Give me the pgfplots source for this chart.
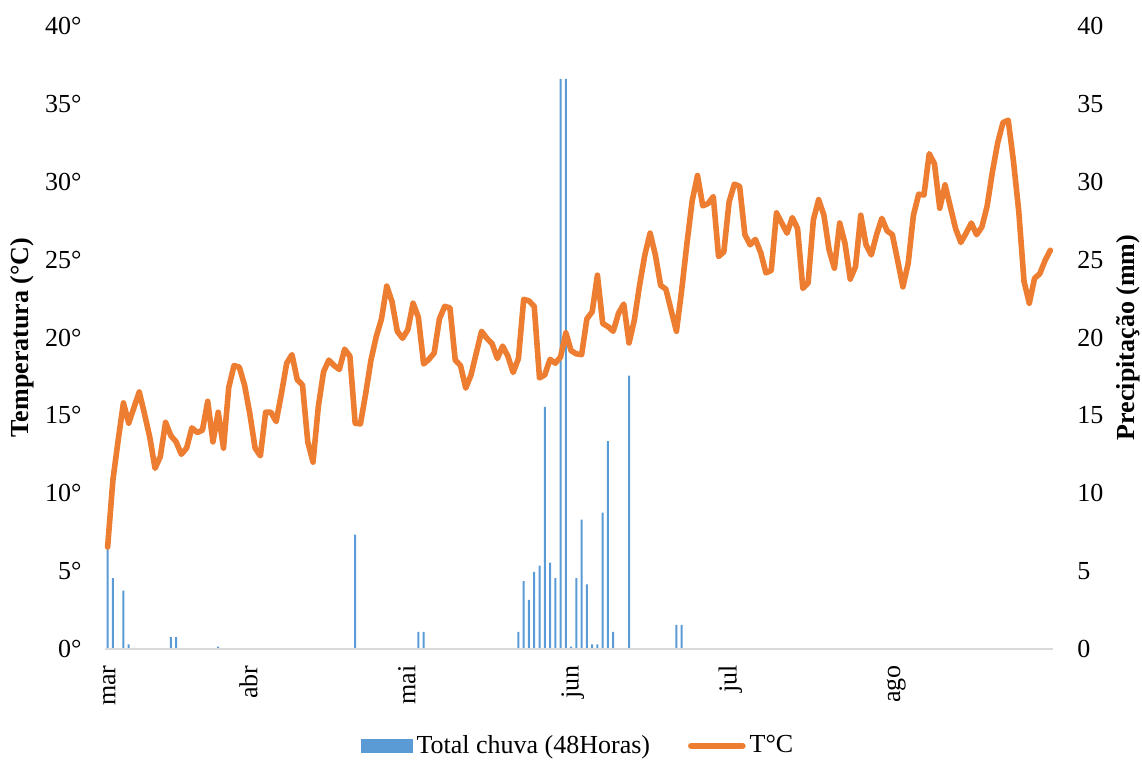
\documentclass[border=0pt]{standalone}
\usepackage{fontspec}
\setmainfont{Liberation Serif}
\usepackage{pgfplots}
\pgfplotsset{compat=1.18}
\definecolor{barblue}{HTML}{5B9BD5}
\definecolor{lineorange}{HTML}{ED7D31}
\definecolor{basegray}{HTML}{D9D9D9}

\pgfplotstableread{
d t
0 6.55
1 10.85
2 13.4
3 15.8
4 14.5
5 15.5
6 16.5
7 15.1
8 13.6
9 11.6
10 12.35
11 14.55
12 13.7
13 13.3
14 12.5
15 12.9
16 14.2
17 13.9
18 14.05
19 15.9
20 13.3
21 15.2
22 12.9
23 16.8
24 18.2
25 18.1
26 16.95
27 15.1
28 12.9
29 12.4
30 15.2
31 15.2
32 14.6
33 16.4
34 18.35
35 18.9
36 17.3
37 16.95
38 13.3
39 12.0
40 15.55
41 17.8
42 18.55
43 18.2
44 17.95
45 19.25
46 18.8
47 14.5
48 14.45
49 16.4
50 18.55
51 20.05
52 21.2
53 23.3
54 22.3
55 20.4
56 19.95
57 20.5
58 22.2
59 21.3
60 18.3
61 18.6
62 19.0
63 21.2
64 22.0
65 21.9
66 18.55
67 18.2
68 16.75
69 17.6
70 19.0
71 20.4
72 19.95
73 19.6
74 18.65
75 19.45
76 18.8
77 17.75
78 18.65
79 22.45
80 22.35
81 22.0
82 17.4
83 17.6
84 18.6
85 18.35
86 18.75
87 20.3
88 19.15
89 18.95
90 18.9
91 21.2
92 21.65
93 24.0
94 20.9
95 20.7
96 20.4
97 21.55
98 22.15
99 19.65
100 21.1
101 23.35
102 25.3
103 26.7
104 25.3
105 23.35
106 23.1
107 21.75
108 20.4
109 23.05
110 26.05
111 28.8
112 30.4
113 28.45
114 28.6
115 29.05
116 25.2
117 25.5
118 28.7
119 29.85
120 29.7
121 26.6
122 25.95
123 26.3
124 25.45
125 24.15
126 24.3
127 28.0
128 27.35
129 26.7
130 27.7
131 27.0
132 23.15
133 23.5
134 27.55
135 28.85
136 27.85
137 25.6
138 24.45
139 27.35
140 26.05
141 23.75
142 24.55
143 27.85
144 25.95
145 25.3
146 26.6
147 27.65
148 26.85
149 26.6
150 24.95
151 23.25
152 24.75
153 27.85
154 29.2
155 29.15
156 31.8
157 31.15
158 28.3
159 29.8
160 28.4
161 27.0
162 26.1
163 26.7
164 27.35
165 26.6
166 27.1
167 28.45
168 30.65
169 32.5
170 33.8
171 33.95
172 31.3
173 28.1
174 23.6
175 22.2
176 23.8
177 24.1
178 24.95
179 25.6
}\temptable

\pgfplotstableread{
d r
0 6.5
1 4.55
3 3.75
4 0.3
12 0.77
13 0.77
21 0.15
47 7.35
59 1.1
60 1.1
78 1.1
79 4.35
80 3.15
81 4.95
82 5.35
83 15.55
84 5.55
85 4.55
86 36.6
87 36.6
88 0.15
89 4.55
90 8.3
91 4.15
92 0.3
93 0.3
94 8.75
95 13.35
96 1.1
99 17.55
108 1.55
109 1.55
}\raintable

\begin{document}
\fontsize{13}{15.6}\selectfont
\begin{tikzpicture}
\useasboundingbox (-52.5pt,-55.5pt) rectangle (518.5pt,324.5pt);
\pgfplotsset{
  common/.style={
    scale only axis, width=474pt, height=311.5pt,
    xmin=-0.5, xmax=179.5, ymin=0, ymax=40,
    ytick={0,5,...,40},
    tick style={draw=none},
    major tick length=0pt,
    /pgf/number format/assume math mode=true,
    tick label style={font=\fontsize{13}{15.6}\selectfont},
    label style={font=\fontsize{13}{15.6}\selectfont\bfseries},
  }
}
% rain (right axis)
\begin{axis}[common,
  axis x line=none,
  axis y line*=right,
  y axis line style={draw=none},
  yticklabel style={anchor=west, inner xsep=12pt},
  ylabel={Precipitação (mm)},
  ylabel style={at={(axis description cs:1,0.5)}, anchor=center, yshift=-37.5pt},
]
\addplot[ybar, bar width=1pt, bar shift=0pt, fill=barblue, draw=none] table[x=d, y=r] {\raintable};
\end{axis}
% temperature (left axis)
\begin{axis}[common,
  axis x line*=bottom,
  axis y line*=left,
  y axis line style={draw=none},
  x axis line style={basegray, line width=0.8pt},
  xtick={1.45,28.45,58.45,89.45,119.45,150.45},
  xticklabels={mar,abr,mai,jun,jul,ago},
  xticklabel style={rotate=90, anchor=base east, inner xsep=8pt},
  yticklabels={0°,5°,10°,15°,20°,25°,30°,35°,40°},
  yticklabel style={anchor=east, inner xsep=11.5pt},
  ylabel={Temperatura (°C)},
  ylabel style={at={(axis description cs:0,0.5)}, anchor=center, yshift=41.5pt},
  legend columns=2,
  legend cell align=left,
  legend style={at={(axis description cs:0.5,-0.1557)}, anchor=center, draw=none, fill=none,
    font=\fontsize{13}{15.6}\selectfont,
    /tikz/every even column/.append style={column sep=17pt}},
]
\addlegendimage{legend image code/.code={\fill[barblue] (0pt,-3.25pt) rectangle (25.5pt,3.25pt);}}
\addlegendentry{Total chuva (48Horas)}
\addplot[lineorange, line width=2.8pt, line join=round, line cap=round, mark=none,
  legend image code/.code={\draw[lineorange, line width=2.8pt, line cap=round] (0pt,0pt) -- (26pt,0pt);}]
  table[x=d, y=t] {\temptable};
\addlegendentry{T°C}
\end{axis}
\end{tikzpicture}
\end{document}
